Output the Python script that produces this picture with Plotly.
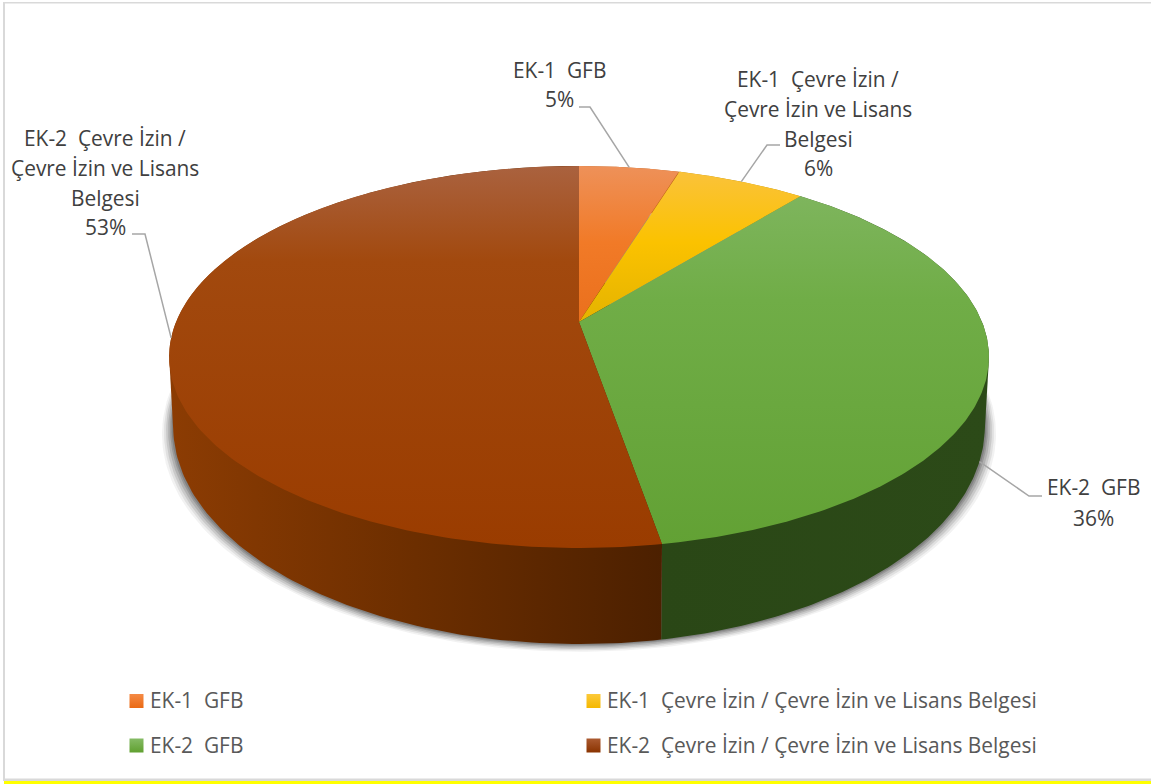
import numpy as np
import plotly.graph_objects as go

NB = "\u00a0"
categories = [f"EK-1{NB} GFB", f"EK-1{NB} Çevre İzin / Çevre İzin ve Lisans Belgesi",
              f"EK-2{NB} GFB", f"EK-2{NB} Çevre İzin / Çevre İzin ve Lisans Belgesi"]
values = [4.7, 6.1, 36.5, 52.7]
label_lines = [[f"EK-1{NB} GFB"],
               [f"EK-1{NB} Çevre İzin /", "Çevre İzin ve Lisans", "Belgesi"],
               [f"EK-2{NB} GFB"],
               [f"EK-2{NB} Çevre İzin /", "Çevre İzin ve Lisans", "Belgesi"]]

top_colors = [
    [[0, "#ee9159"], [0.2, "#f17a27"], [0.42, "#ea6f1c"], [1, "#ea6f1c"]],
    [[0, "#fac23f"], [0.2, "#fbc200"], [0.4, "#e5b400"], [1, "#e5b400"]],
    [[0, "#82b763"], [0.35, "#70ad47"], [1, "#62a134"]],
    [[0, "#aa623f"], [0.25, "#a2490e"], [1, "#9a3c00"]],
]
wall_colors = [
    [[0, "#b85a14"], [1, "#b85a14"]],
    [[0, "#b88a00"], [1, "#b88a00"]],
    [[0, "#2a4716"], [1, "#2c4a18"]],
    [[0, "#8c3c03"], [0.5, "#6c2e00"], [1, "#4c2000"]],
]
swatch_colors = [("#f58a45", "#ea6a14"), ("#fcc93a", "#f5b800"), ("#85bb65", "#60a030"), ("#ab5a30", "#8a3300")]

# perspective disc geometry in the page's pixel space
CX, CY, A, B, K = 579, 322, 403, 184.6, 0.183
SX_BOT, SY_BOT, CY_BOT = 0.99, 1.14, 386.5


def rim(theta_deg, t=0.0):
    th = np.radians(theta_deg)
    u, v = np.sin(th), np.cos(th)
    w = 1 + K * v
    sx = 1 + (SX_BOT - 1) * t
    sy = 1 + (SY_BOT - 1) * t
    cy = CY + (CY_BOT - CY) * t
    return CX + sx * A * u / w, cy - sy * B * v / w


def hull(x, y):
    pts = sorted(set(zip(np.round(x, 3).tolist(), np.round(y, 3).tolist())))

    def half(seq):
        out = []
        for p in seq:
            while len(out) >= 2 and ((out[-1][0] - out[-2][0]) * (p[1] - out[-2][1])
                                     - (out[-1][1] - out[-2][1]) * (p[0] - out[-2][0])) <= 0:
                out.pop()
            out.append(p)
        return out[:-1]

    h = half(pts) + half(pts[::-1])
    h.append(h[0])
    return [p[0] for p in h], [p[1] for p in h]


edges = np.cumsum([0] + values) / sum(values) * 360
fig = go.Figure()

# soft shadow under the body
ths = np.linspace(0, 360, 361)
for grow, alpha in [(11, 0.06), (9, 0.09), (7, 0.12), (5, 0.15), (3, 0.18), (1.5, 0.2)]:
    x, y = rim(ths, 1)
    x = CX + (x - CX) * (1 + grow / 400)
    y = y + grow * 0.7
    fig.add_trace(go.Scatter(x=x, y=y, mode="lines", line=dict(width=0), fill="toself",
                             fillcolor=f"rgba(40,40,40,{alpha})", hoverinfo="skip", showlegend=False))

# side walls: hull of the slice's top and bottom arcs, which gives the vertical silhouette
for i, name in enumerate(categories):
    th = np.linspace(edges[i], edges[i + 1], 200)
    x1, y1 = rim(th, 0)
    x2, y2 = rim(th, 1)
    x, y = hull(np.r_[x1, x2], np.r_[y1, y2])
    grad = dict(type="horizontal", colorscale=wall_colors[i], start=float(min(x)), stop=float(max(x)))
    fig.add_trace(go.Scatter(x=x, y=y, mode="lines", line=dict(width=0), fill="toself",
                             fillgradient=grad, hoverinfo="skip", showlegend=False))

# top sectors
ytop = float(rim(np.array([0.0]))[1][0])
ybot = float(rim(np.array([180.0]))[1][0])
for i, name in enumerate(categories):
    th = np.linspace(edges[i], edges[i + 1], 200)
    xa, ya = rim(th, 0)
    x = np.r_[CX, xa, CX]
    y = np.r_[CY, ya, CY]
    grad = dict(type="vertical", colorscale=top_colors[i], start=ytop, stop=ybot)
    fig.add_trace(go.Scatter(x=x, y=y, mode="lines", line=dict(width=0), fill="toself",
                             fillgradient=grad, name=name, hoverinfo="name", showlegend=False))

# leader lines: elbow at the label, end on the rim near the slice's mid angle
elbows = [[(579, 107), (590, 107)], [(780, 145), (767, 145)], [(1042, 496), (1029, 496)], [(132, 234), (145, 234)]]
leader_depth = [0, 0, 1, 0]
leader_shift = [0, 0, 5, 0]
for i in range(4):
    mid = (edges[i] + edges[i + 1]) / 2 + leader_shift[i]
    ex, ey = rim(mid, leader_depth[i])
    pts = elbows[i] + [(ex, ey)]
    fig.add_trace(go.Scatter(x=[p[0] for p in pts], y=[p[1] for p in pts], mode="lines",
                             line=dict(color="#a6a6a6", width=1.5), hoverinfo="skip", showlegend=False))

# data labels
label_x = [559, 818, 1093, 105]
label_y = [[70, 99], [79, 109, 139, 168], [487, 518], [138, 168, 198, 227]]
FS = 20.9
ann = []
for i in range(4):
    lines = label_lines[i] + [f"{round(values[i])}%"]
    for line, yy in zip(lines, label_y[i]):
        ann.append(dict(x=label_x[i], y=yy, text=line, showarrow=False, xref="x", yref="y",
                        xanchor="center", yanchor="middle",
                        font=dict(family="Open Sans", size=FS, color="#404040")))

# legend
leg_x = [136.5, 593.5, 136.5, 593.5]
leg_y = [701, 701, 745.5, 745.5]
for i in range(4):
    fig.add_trace(go.Scatter(x=[leg_x[i]], y=[leg_y[i]], mode="markers", showlegend=False, hoverinfo="skip",
                             marker=dict(symbol="square", size=14, color=swatch_colors[i][0], line=dict(width=0),
                                         gradient=dict(type="vertical", color=swatch_colors[i][1]))))
    ann.append(dict(x=leg_x[i] + 11, y=leg_y[i] - 1, text=categories[i], showarrow=False, xanchor="left",
                    yanchor="middle", font=dict(family="Open Sans", size=FS, color="#595959")))

shapes = [
    dict(type="rect", x0=3, x1=1151, y0=2, y1=3.5, fillcolor="#d9d9d9", line_width=0, layer="below"),
    dict(type="rect", x0=3, x1=5, y0=2, y1=781, fillcolor="#d9d9d9", line_width=0, layer="below"),
    dict(type="rect", x0=3, x1=1151, y0=778.5, y1=781, fillcolor="#d9d9d9", line_width=0, layer="below"),
    dict(type="rect", x0=4, x1=1151, y0=781, y1=784, fillcolor="#ffff00", line_width=0, layer="below"),
]

fig.update_layout(width=1151, height=784, margin=dict(l=0, r=0, t=0, b=0),
                  paper_bgcolor="white", plot_bgcolor="white", showlegend=False,
                  xaxis=dict(range=[0, 1151], visible=False, fixedrange=True),
                  yaxis=dict(range=[784, 0], visible=False, fixedrange=True),
                  annotations=ann, shapes=shapes)
fig.write_html("out.html", config={"displayModeBar": False},
               post_script="document.body.style.margin='0';document.documentElement.style.overflow='hidden';")
